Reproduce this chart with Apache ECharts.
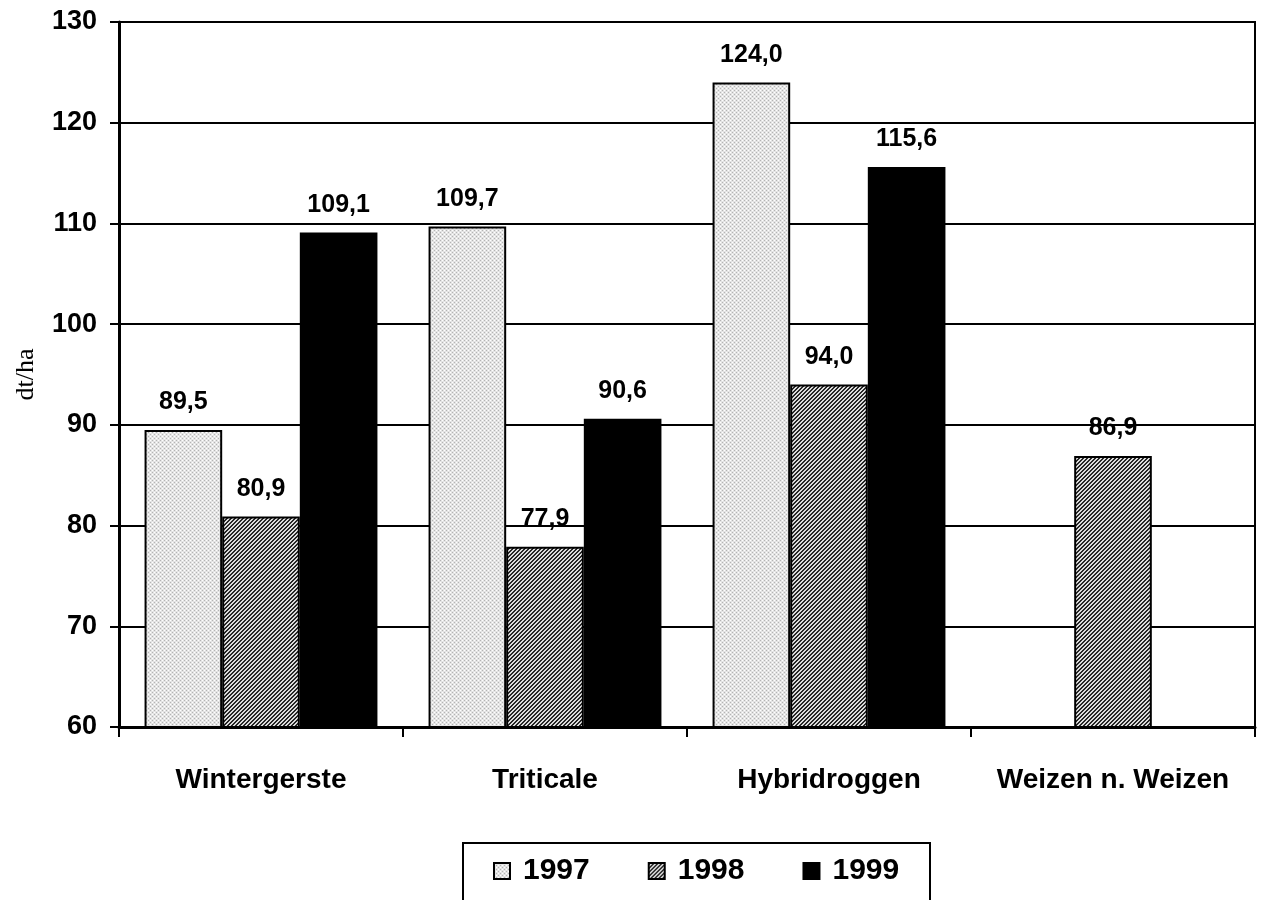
<!DOCTYPE html>
<html>
<head>
<meta charset="utf-8">
<script src="https://cdn.jsdelivr.net/npm/echarts@6/dist/echarts.min.js"></script>
<style>
  html, body { margin: 0; padding: 0; background: #fff; }
  #chart { width: 1263px; height: 900px; }
</style>
</head>
<body>
<div id="chart"></div>
<script>
// Erträge in dt/ha je Fruchtart und Jahr
const categories = ['Wintergerste', 'Triticale', 'Hybridroggen', 'Weizen n. Weizen'];
const years = ['1997', '1998', '1999'];
const values1997 = [89.5, 109.7, 124.0, null];
const values1998 = [80.9, 77.9, 94.0, 86.9];
const values1999 = [109.1, 90.6, 115.6, null];
const yTicks = { min: 60, max: 130, step: 10 };

const FONT = '"Liberation Sans", Arial, Helvetica, sans-serif';

// Fine dotted light-grey fill
function dotPattern() {
  const c = document.createElement('canvas');
  c.width = 4; c.height = 4;
  const g = c.getContext('2d');
  g.fillStyle = '#e4e4e4';
  g.fillRect(0, 0, 4, 4);
  g.fillStyle = '#b4b4b4';
  [[0, 0], [2, 2]].forEach(p => g.fillRect(p[0], p[1], 1, 1));
  g.fillStyle = '#ffffff';
  [[2, 0], [0, 2]].forEach(p => g.fillRect(p[0], p[1], 1, 1));
  return c;
}

// Dense diagonal hatching rising to the right
function hatchPattern() {
  const c = document.createElement('canvas');
  c.width = 4; c.height = 4;
  const g = c.getContext('2d');
  for (let x = 0; x < 4; x++) {
    for (let y = 0; y < 4; y++) {
      const k = (x + y) % 4;
      g.fillStyle = (k === 0 || k === 1) ? '#262626' : '#dcdcdc';
      g.fillRect(x, y, 1, 1);
    }
  }
  return c;
}

const fills = [
  { image: dotPattern(), repeat: 'repeat' },
  { image: hatchPattern(), repeat: 'repeat' },
  '#000000'
];

const seriesData = [values1997, values1998, values1999];

const chart = echarts.init(document.getElementById('chart'), null, { renderer: 'canvas' });

chart.setOption({
  animation: false,
  backgroundColor: '#ffffff',
  grid: {
    left: 119, right: 8, top: 22, bottom: 173,
    show: true, borderColor: '#000', borderWidth: 2, backgroundColor: 'transparent'
  },
  graphic: [{
    type: 'rect',
    shape: { x: 463, y: 843, width: 467, height: 70 },
    style: { fill: 'none', stroke: '#000', lineWidth: 2 },
    z: 10
  }],
  legend: {
    data: years,
    left: 488,
    top: 851,
    itemWidth: 16,
    itemHeight: 16,
    itemGap: 58,
    icon: 'rect',
    textStyle: {
      fontFamily: FONT, fontWeight: 'bold', fontSize: 30, color: '#000',
      padding: [0, 0, 0, 8]
    },
    itemStyle: { borderColor: '#000', borderWidth: 2 }
  },
  xAxis: {
    type: 'category',
    data: categories,
    axisLine: { lineStyle: { color: '#000', width: 3 } },
    axisTick: { show: true, interval: 0, length: 10, lineStyle: { color: '#000', width: 2 } },
    axisLabel: {
      interval: 0, margin: 39, color: '#000', fontFamily: FONT, fontWeight: 'bold', fontSize: 28
    }
  },
  yAxis: {
    type: 'value',
    min: yTicks.min, max: yTicks.max, interval: yTicks.step,
    name: 'dt/ha',
    nameLocation: 'middle',
    nameGap: 80,
    nameTextStyle: {
      fontFamily: '"Liberation Serif", "Times New Roman", serif', fontSize: 26, color: '#000'
    },
    axisLine: { show: true, lineStyle: { color: '#000', width: 3 } },
    axisTick: { show: true, length: 9, lineStyle: { color: '#000', width: 2 } },
    axisLabel: {
      margin: 22, color: '#000', fontFamily: FONT, fontWeight: 'bold', fontSize: 27
    },
    splitLine: { show: true, lineStyle: { color: '#000', width: 2 } }
  },
  series: years.map((y, i) => ({
    name: y,
    type: 'bar',
    data: seriesData[i],
    barGap: '0%',
    barCategoryGap: '18%',
    itemStyle: { color: fills[i], borderColor: '#000', borderWidth: 2 },
    label: {
      show: true,
      position: 'top',
      distance: 15,
      color: '#000',
      fontFamily: FONT,
      fontWeight: 'bold',
      fontSize: 25,
      formatter: p => p.value == null ? '' : p.value.toFixed(1).replace('.', ',')
    }
  }))
});
</script>
</body>
</html>
